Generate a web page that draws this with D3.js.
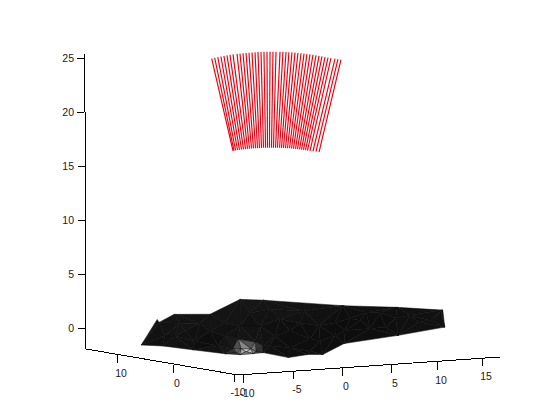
<!DOCTYPE html>
<html><head><meta charset="utf-8">
<script src="https://cdn.jsdelivr.net/npm/d3@7"></script>
<style>html,body{margin:0;padding:0;background:#fff}svg{display:block}text{font-family:"Liberation Sans",Arial,sans-serif;font-size:10.5px;fill:#1a1a1a}</style>
</head><body><script>
const xTicks=[-10,-5,0,5,10,15];
const yTicks=[10,0,-10];
const zTicks=[0,5,10,15,20,25];

// red wire lines: x and z at the far end / near end (y = 0 plane)
const wireTopX=[-6.63,-6.33,-6.02,-5.71,-5.41,-5.10,-4.80,-4.49,-4.08,-3.78,-3.47,-3.16,-2.86,-2.55,-2.24,-1.94,-1.63,-1.33,-1.02,-0.71,-0.41,-0.10,0.31,0.61,0.92,1.22,1.53,1.84,2.14,2.45,2.76,3.06,3.37,3.67,3.98,4.29,4.59,4.90,5.22,5.54,5.98,6.30,6.63];
const wireTopZ=[26.15,26.20,26.25,26.29,26.33,26.36,26.39,26.41,26.43,26.44,26.45,26.46,26.47,26.47,26.47,26.47,26.47,26.46,26.45,26.43,26.42,26.40,26.36,26.34,26.30,26.26,26.23,26.19,26.14,26.10,26.04,25.98,25.93,25.87,25.81,25.74,25.68,25.60,25.53,25.46,25.38,25.32,25.25];
const wireLowX=[-4.49,-4.39,-4.23,-4.03,-3.83,-3.62,-3.42,-3.21,-3.01,-2.81,-2.60,-2.40,-2.19,-1.99,-1.79,-1.58,-1.38,-1.17,-0.97,-0.77,-0.56,-0.36,-0.15,0.05,0.26,0.46,0.66,0.87,1.07,1.28,1.48,1.68,1.89,2.09,2.30,2.50,2.70,2.91,3.11,3.37,3.67,3.98,4.29];
const wireLowZ=[17.47,17.49,17.51,17.53,17.54,17.55,17.56,17.57,17.57,17.58,17.58,17.58,17.58,17.58,17.57,17.57,17.57,17.56,17.56,17.55,17.54,17.52,17.51,17.50,17.48,17.46,17.44,17.41,17.39,17.37,17.34,17.31,17.28,17.25,17.21,17.17,17.13,17.09,17.05,17.00,16.95,16.89,16.83];

// dark surface: rim vertices in order, then interior vertices
const rimX=[-8.9,-3.96,-4.13,-2.81,-0.06,3.85,5.27,9.03,12.51,15.66,15.7,16.0,9.52,4.17,2.54,1.44,-0.32,-1.86,-2.55,-3.04,-4.2,-5.82,-7.31];
const rimY=[8.52,14.84,14.15,13.74,12.01,13.59,11.77,3.61,-0.42,-2.92,-3.19,-3.08,-5.02,-4.3,-3.43,-2.71,-2.4,-0.71,-0.18,1.28,1.94,4.8,7.57];
const rimZ=[-1,0.5,0.3,1,1,2,2,2,2,1.5,1.8,0.2,0,-0.5,-1.5,-1.5,-1.7,-1.3,-1.4,-1.6,-1.5,-1.3,-1.1];
const rimShade=[0.07,0.08,0.08,0.08,0.08,0.09,0.09,0.07,0.07,0.08,0.08,0.07,0.07,0.06,0.06,0.07,0.06,0.08,0.3,0.25,0.09,0.07,0.06];
const midX=[-3.79,-1.78,-1.38,-5.11,0.89,3.11,4.68,7.47,2.35,2.09,-2.16,-1.69,-1.66,0.17,-0.76,0.29,6.86,4.61,10.22,10.62,13.94,15.3,6.96,12.32,3.22,-0.95,-0.91,-2.44,-5.85,-3.32,-4.19,-1.92,-3.06,0.12,2.38,0.82,4.04,5.76,5.14,8.53,8.36,10.8,13.42,12,15.45,16.4,5.08];
const midY=[9.79,10.68,6.86,9.26,8.16,10.29,7.64,8.05,4.46,1.32,4.06,3.48,2.63,4.21,5.63,3.03,4.31,2.17,4.28,1.31,2.12,0.11,1.58,4.77,-0.23,3,2.15,2.86,9.74,11.64,7.3,8.59,5.19,9.48,7.19,2.69,4.75,5.88,1.29,4.2,2.1,3.4,4.05,0.79,2,0.04,10.14];
const midZ=[-0.13,0.4,-0.47,-0.47,0.2,1.07,0.67,1.2,-0.47,-1.27,-1.33,-1.33,-1.53,-0.87,-0.67,-1.13,0.2,-0.67,0.67,0,0.67,0.4,-0.47,1.07,-1.47,-1.33,-1.53,-1.6,-0.47,0.4,-0.8,-0.13,-1.13,0.4,0.2,-1.13,-0.13,0.4,-0.8,0.4,-0.13,0.53,1.07,0.07,0.87,0.53,1.33];
const midShade=[0.07,0.08,0.06,0.08,0.06,0.08,0.07,0.08,0.06,0.06,0.14,0.7,1,0.1,0.09,0.09,0.06,0.05,0.05,0.05,0.06,0.06,0.05,0.06,0.06,0.8,0.45,0.35,0.06,0.08,0.05,0.07,0.05,0.08,0.06,0.06,0.05,0.06,0.05,0.05,0.05,0.05,0.06,0.05,0.06,0.06,0.08];

const W=560,H=420;
const svg=d3.select("body").append("svg").attr("width",W).attr("height",H);

const xPx=d3.scaleLinear().domain([-10.5,-10,-5,0,5,10,15,17]).range([238,243,293,342,391,437,482,500]);
const xPy=d3.scaleLinear().domain([-10.5,17]).range([375,357]);
const yPx=d3.scaleLinear().domain([16,10,0,-10,-10.7]).range([86,117,173,234,238]);
const yPy=d3.scaleLinear().domain([16,-10.7]).range([349,375]);
const zPy=d3.scaleLinear().domain([-1.95,0,25]).range([349,328,58]);
const shade=d3.scaleLinear().domain([0,1]).range(["#000000","#ffffff"]);

const proj=(x,y,z)=>[xPx(x)+yPx(y)-238, xPy(x)+yPy(y)-375+zPy(z)-349];

// surface
const rim=rimX.map((x,i)=>proj(x,rimY[i],rimZ[i]));
const mid=midX.map((x,i)=>proj(x,midY[i],midZ[i]));
const verts=rim.concat(mid);
const shades=rimShade.concat(midShade);
const del=d3.Delaunay.from(verts);
const tris=[];
for(let t=0;t<del.triangles.length;t+=3){
  const a=del.triangles[t],b=del.triangles[t+1],c=del.triangles[t+2];
  const cx=(verts[a][0]+verts[b][0]+verts[c][0])/3, cy=(verts[a][1]+verts[b][1]+verts[c][1])/3;
  if(d3.polygonContains(rim,[cx,cy])) tris.push([a,b,c]);
}
svg.append("g").selectAll("path").data(tris).join("path")
  .attr("d",t=>"M"+t.map(i=>verts[i].join(",")).join("L")+"Z")
  .attr("fill",t=>shade((shades[t[0]]+shades[t[1]]+shades[t[2]])/3))
  .attr("stroke","#0c0c0c").attr("stroke-width",0.5);

// red wires
svg.append("g").attr("opacity",0.999).selectAll("line").data(wireTopX).join("line")
  .each(function(d,i){
    const a=proj(d,0,wireTopZ[i]),b=proj(wireLowX[i],0,wireLowZ[i]);
    d3.select(this).attr("x1",a[0]).attr("y1",a[1]).attr("x2",b[0]).attr("y2",b[1]);
  })
  .attr("stroke","#e6000f").attr("stroke-width",1.15);

// axes
const ax=svg.append("g").attr("stroke","#000").attr("stroke-width",1).attr("shape-rendering","crispEdges");
const line=(a,b)=>ax.append("line").attr("x1",a[0]).attr("y1",a[1]).attr("x2",b[0]).attr("y2",b[1]);
const zEnd=25.35;
line([84,zPy(zEnd)],[84,zPy(20)]);
line([85,zPy(20)],[85,zPy(-1.95)]);
line([yPx(16),yPy(16)],[yPx(-10.7),yPy(-10.7)]);
line([xPx(-10.5),xPy(-10.5)],[xPx(17),xPy(17)]);

const lab=svg.append("g").attr("opacity",0.999);
zTicks.forEach(v=>{
  const x0=v>=20?84:85;
  line([x0-7,zPy(v)],[x0,zPy(v)]);
  lab.append("text").attr("x",74).attr("y",zPy(v)+4).attr("text-anchor","end").text(v);
});
yTicks.forEach(v=>{
  const x=yPx(v),y=yPy(v);
  line([x,y],[x,y+8]);
  lab.append("text").attr("x",x+4).attr("y",y+22).attr("text-anchor","middle").text(v);
});
xTicks.forEach(v=>{
  const x=xPx(v),y=xPy(v)+yPy(-10.7)-375;
  line([x,y],[x,y+8]);
  lab.append("text").attr("x",x+4).attr("y",y+22).attr("text-anchor","middle").text(v);
});
</script></body></html>
